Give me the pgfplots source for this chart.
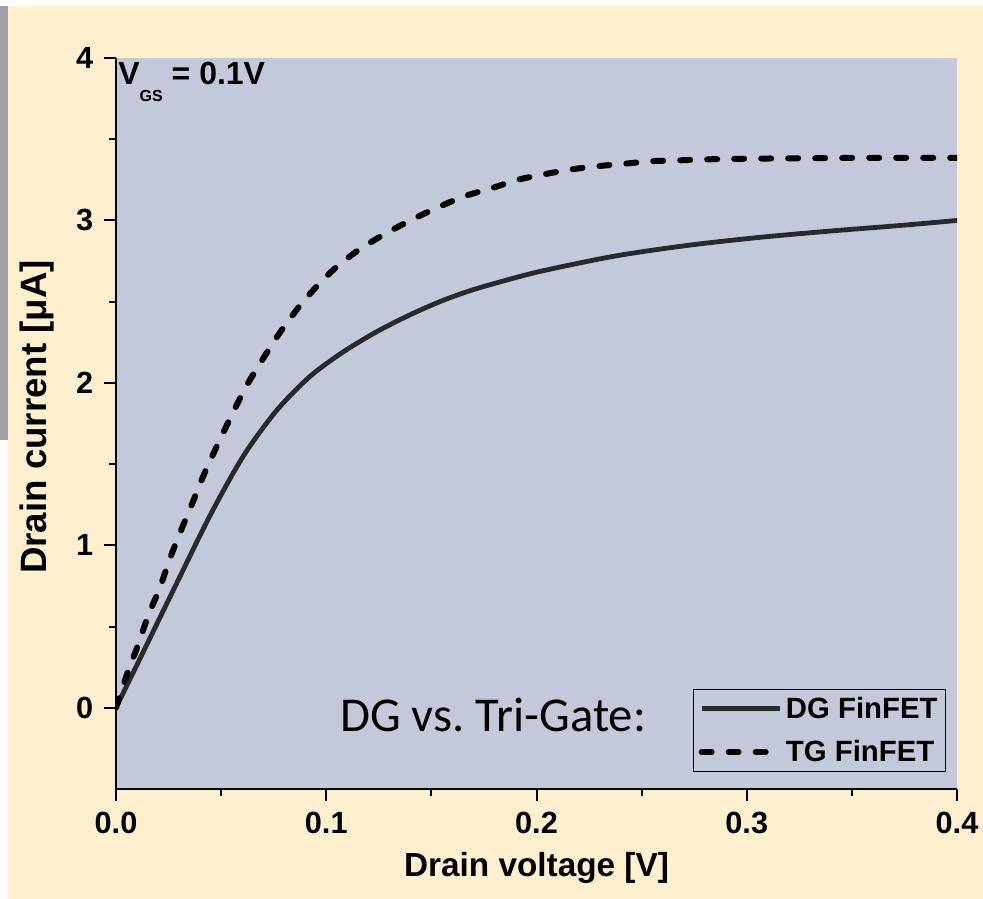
\documentclass[border=0pt]{standalone}
\usepackage{pgfplots}
\pgfplotsset{compat=1.18}
\usepackage{fontspec}
\setmainfont{Liberation Sans}
\newfontfamily\carlito{Carlito}
\definecolor{cream}{RGB}{254,240,206}
\definecolor{plotbg}{RGB}{195,200,218}
\definecolor{stripgray}{RGB}{160,160,166}
\definecolor{dgcol}{RGB}{42,42,46}
\frenchspacing
\begin{document}
\begin{tikzpicture}
\fill[cream] (-87pt,-82.5pt) rectangle (650.25pt,591.75pt);
\fill[white] (-87pt,587.25pt) rectangle (650.25pt,591.75pt);
\fill[stripgray] (-87pt,261.75pt) rectangle (-81pt,587.25pt);
\fill[white] (-87pt,-82.5pt) rectangle (-81pt,261.75pt);
\begin{axis}[
  at={(0pt,0pt)}, anchor=south west,
  scale only axis, width=630.75pt, height=548.25pt,
  xmin=0, xmax=0.4, ymin=-0.5, ymax=4,
  axis background/.style={fill=plotbg},
  axis x line*=bottom, axis y line*=left,
  axis line style={-, line width=2pt, black},
  xtick={0,0.1,0.2,0.3,0.4}, ytick={0,1,2,3,4},
  minor x tick num=1, minor y tick num=1,
  tick align=outside,
  major tick length=9pt, minor tick length=5pt,
  tick style={black, line width=1.5pt},
  /pgf/number format/assume math mode=true,
  tick label style={font=\fontsize{23}{27}\selectfont\bfseries},
  x tick label style={yshift=-4.5pt, /pgf/number format/.cd, fixed, fixed zerofill, precision=1},
  y tick label style={xshift=-4.5pt},
  xlabel={Drain voltage [V]},
  ylabel={Drain current [μA]},
  xlabel style={font=\fontsize{25}{30}\selectfont\bfseries, at={(rel axis cs:0.5,0)}, anchor=center, yshift=-59pt},
  ylabel style={font=\fontsize{27.5}{32}\selectfont\bfseries, at={(axis description cs:-0.094,0.509)}, anchor=center},
  legend style={at={(rel axis cs:0.987,0.023)}, anchor=south east, draw=black, line width=0.8pt, fill=plotbg,
    font=\fontsize{22}{26}\selectfont\bfseries, row sep=11pt, inner sep=4pt},
  legend cell align=left,
  legend image code/.code={\draw[#1] (0pt,0pt) -- (59pt,0pt);},
]
\addplot[dgcol, line width=3.6pt, smooth] coordinates {
(0,0) (0.013,0.345) (0.029,0.77) (0.045,1.19) (0.0606,1.55) (0.0764,1.83)
(0.0923,2.04) (0.108,2.19) (0.124,2.315) (0.140,2.42) (0.155,2.505) (0.169,2.57)
(0.185,2.63) (0.203,2.69) (0.237,2.78) (0.271,2.845) (0.3055,2.895) (0.34,2.935)
(0.374,2.97) (0.4,3.00)
};
\addlegendentry{DG FinFET}
\addplot[black, line width=4.5pt, line cap=round, dash pattern=on 7.5pt off 12.75pt, smooth] coordinates {
(0,0) (0.0059,0.23) (0.0106,0.39) (0.0154,0.57) (0.0209,0.74) (0.0257,0.92)
(0.0312,1.10) (0.0368,1.275) (0.0423,1.45) (0.0487,1.63) (0.055,1.80) (0.062,1.98)
(0.070,2.15) (0.078,2.31) (0.089,2.50) (0.102,2.68) (0.1145,2.81) (0.127,2.91)
(0.140,3.00) (0.153,3.08) (0.166,3.15) (0.179,3.20) (0.191,3.25) (0.204,3.285)
(0.217,3.315) (0.230,3.335) (0.2425,3.35) (0.255,3.365) (0.268,3.37) (0.281,3.376)
(0.3,3.38) (0.35,3.385) (0.4,3.385)
};
\addlegendentry{TG FinFET}
\node[anchor=base west, inner sep=0pt, font=\fontsize{24}{28}\selectfont\bfseries] at (axis cs:0.001,3.834)
  {V\raisebox{-12.75pt}{\fontsize{12}{14}\selectfont GS} = 0.1V};
\node[anchor=base west, inner sep=0pt, font=\carlito\fontsize{36.5}{40}\selectfont] at (axis cs:0.1065,-0.148)
  {DG vs. Tri-Gate:};
\end{axis}
\end{tikzpicture}
\end{document}
